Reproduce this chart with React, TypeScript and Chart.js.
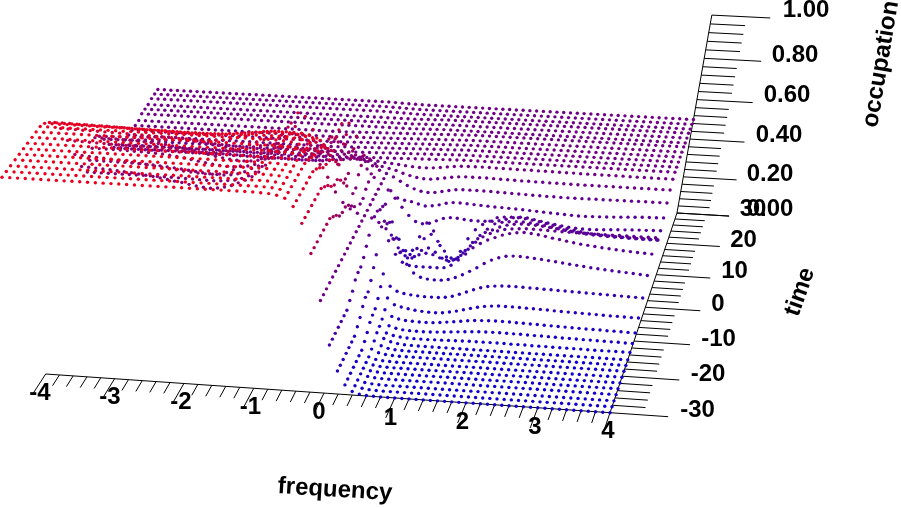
import React, { useEffect, useRef } from "react";
import { Chart, registerables } from "chart.js";

Chart.register(...registerables);

// Occupation in thousandths. Each row is one time. Columns: frequency -4.0 .. -0.1 and 0.0 .. 4.0 in steps of 0.1.
const rowTimes = [-30,-28.4,-26.8,-25.1,-23.5,-21.9,-20.3,-18.6,-17,-15.4,-13.8,-12.2,-10.5,-8.9,-7.3,-5.7,-4.1,-2.4,-0.8,0.8,2.4,4.1,5.7,7.3,8.9,10.5,12.2,13.8,15.4,17,18.6,20.3,21.9,23.5,25.1,26.8,28.4,30];

const coldNeg = [1000,1000,1000,1000,1000,1000,1000,1000,1000,1000,1000,1000,1000,1000,1000,1000,1000,1000,1000,1000,1000,1000,1000,1000,1000,1000,1000,1000,1000,1000,1000,1000,1000,999,997,992,980,945,870,730];
const coldPos = [500,270,130,55,20,8,3,1,0,0,0,0,0,0,0,0,0,0,0,0,0,0,0,0,0,0,0,0,0,0,0,0,0,0,0,0,0,0,0,0,0];
const lateANeg = [490,490,490,490,490,490,490,490,490,490,490,490,490,490,490,490,490,490,490,490,490,490,490,490,490,490,490,490,490,490,490,491,492,493,494,495,496,497,498,499];
const lateAPos = [500,501,502,503,504,505,506,507,508,509,510,510,510,510,510,510,510,510,510,510,510,510,510,510,510,510,510,510,510,510,510,510,510,510,510,510,510,510,510,510,510];
const lateBNeg = [500,500,500,500,500,500,500,500,500,500,500,500,500,500,500,500,500,500,500,500,500,500,500,500,500,500,500,500,500,500,500,500,500,500,500,500,500,500,500,500];
const lateBPos = [500,501,502,503,504,505,505,505,505,505,505,505,505,505,505,505,505,505,505,505,505,505,505,505,505,505,505,505,505,505,505,505,505,505,505,505,505,505,505,505,505];
const lateCNeg = [505,505,505,505,505,505,505,505,505,505,505,505,505,505,505,505,505,505,505,505,505,505,505,505,505,505,505,505,505,505,505,505,505,505,505,505,504,503,502,501];
const lateCPos = [500,500,500,500,500,500,500,500,500,500,500,500,500,500,500,500,500,500,500,500,500,500,500,500,500,500,500,500,500,500,500,500,500,500,500,500,500,500,500,500,500];

const occupationNegative = [
  coldNeg, coldNeg, coldNeg, coldNeg, coldNeg, coldNeg, coldNeg,
  [1000,1000,1000,1000,1000,1000,1000,1000,1000,1000,1000,1000,1000,1000,1000,1000,1000,1000,1000,1000,1000,1000,1000,1000,1000,1000,1000,1000,1000,1000,1000,1000,1000,998,995,988,970,930,850,710],
  [1000,1000,1000,1000,1000,1000,1000,1000,1000,1000,1000,1000,1000,1000,1000,1000,1000,1000,1000,1000,1000,1000,1000,1000,1000,1000,1000,1000,1000,1000,1000,1000,999,997,992,980,955,910,830,690],
  [1000,1000,1000,1000,1000,1000,1000,1000,1000,1000,1000,1000,1000,1000,1000,1000,1000,1000,1000,1000,1000,1000,1000,1000,1000,1000,1000,1000,1000,1000,1000,999,998,994,986,970,940,885,800,660],
  [990,990,990,990,990,990,990,989,989,989,989,989,988,988,988,987,987,987,986,986,986,986,986,986,987,988,989,990,991,992,992,992,991,988,982,970,935,875,780,650],
  [970,970,969,969,968,968,967,967,966,965,965,964,963,962,962,961,960,960,959,959,959,960,961,963,966,969,972,975,978,980,981,981,980,978,972,960,925,870,780,650],
  [944,944,943,942,942,941,940,940,939,938,937,936,935,934,933,932,931,930,929,928,928,929,931,933,937,942,947,952,957,960,961,961,960,958,952,940,905,845,750,630],
  [892,892,891,890,890,889,888,887,886,885,884,883,882,880,879,878,877,876,875,875,875,878,882,889,898,908,918,926,932,935,934,932,928,922,915,905,870,810,710,600],
  [812,811,810,809,808,807,806,805,804,803,802,801,800,799,798,797,796,795,794,794,795,798,803,812,825,840,855,868,876,880,880,880,878,875,870,860,835,770,670,570],
  [720,717,714,712,710,707,704,701,698,694,690,686,682,678,674,670,667,664,662,662,665,675,690,710,735,757,778,795,808,814,815,813,805,785,740,680,610,560,530,510],
  [636,634,632,630,628,625,622,619,615,611,607,602,596,590,585,578,572,568,565,568,575,585,600,615,635,660,695,730,760,775,778,778,778,778,775,760,720,650,580,530],
  [581,581,581,581,581,581,581,581,581,581,580,580,580,579,578,577,576,575,575,577,580,585,595,610,630,660,700,735,760,765,755,740,735,745,765,755,715,650,580,530],
  [615,615,615,615,614,614,613,612,611,609,607,604,601,597,593,589,585,582,580,580,583,590,602,620,635,670,710,750,785,800,785,755,735,750,785,795,765,700,620,550],
  [649,649,649,648,648,647,646,645,644,642,640,636,632,627,621,615,609,604,600,597,597,600,605,615,645,680,720,765,805,810,775,725,690,715,770,805,785,720,640,560],
  [676,676,675,675,674,673,672,670,668,665,662,657,652,646,639,632,625,618,612,607,604,603,605,610,630,650,680,730,800,850,835,775,700,660,735,810,815,755,665,575],
  [657,658,659,660,661,663,665,667,669,671,672,672,670,667,662,657,651,645,638,632,630,635,645,655,660,662,663,662,659,655,654,660,675,690,695,685,655,615,570,530],
  [617,618,619,620,622,624,626,628,630,631,632,633,633,632,630,628,626,624,622,620,618,616,615,613,612,610,608,606,604,602,602,608,618,625,628,620,610,605,595,560],
  [567,567,567,567,567,568,568,568,569,569,569,570,570,570,570,570,569,569,568,567,566,565,564,563,562,561,560,560,560,560,562,568,575,582,585,580,570,555,535,515],
  [527,527,527,527,527,527,527,527,527,527,527,527,527,527,527,526,526,526,525,525,524,524,523,522,522,521,520,520,520,520,522,526,532,538,542,542,538,530,520,508],
  [498,498,498,498,498,498,498,497,497,497,497,497,497,497,496,496,496,495,495,495,494,494,494,493,493,493,492,492,492,493,494,497,501,506,510,512,512,510,507,503],
  lateANeg, lateANeg, lateANeg, lateANeg, lateANeg, lateANeg,
  lateBNeg, lateBNeg, lateBNeg,
  lateCNeg, lateCNeg, lateCNeg,
];

const occupationPositive = [
  coldPos, coldPos, coldPos, coldPos, coldPos, coldPos, coldPos,
  [500,290,150,70,30,12,5,2,0,0,0,0,0,0,0,0,0,0,0,0,0,0,0,0,0,0,0,0,0,0,0,0,0,0,0,0,0,0,0,0,0],
  [500,310,170,90,45,20,8,3,1,0,0,0,0,0,0,0,0,0,0,0,0,0,0,0,0,0,0,0,0,0,0,0,0,0,0,0,0,0,0,0,0],
  [500,340,200,115,60,30,14,6,2,1,0,0,0,0,0,0,0,0,0,0,0,0,0,0,0,0,0,0,0,0,0,0,0,0,0,0,0,0,0,0,0],
  [500,350,220,125,65,30,18,12,9,8,8,8,9,10,11,12,13,14,14,14,14,14,14,13,13,13,12,12,12,11,11,11,11,11,10,10,10,10,10,10,10],
  [500,350,220,130,75,40,28,22,20,19,19,20,22,25,28,31,34,37,39,40,41,41,41,40,40,39,38,38,37,36,35,35,34,33,33,32,32,31,31,30,30],
  [500,370,250,155,95,60,48,42,40,39,39,40,43,48,53,58,63,67,69,71,72,72,71,70,69,68,67,66,65,64,63,62,61,60,60,59,58,58,57,56,56],
  [500,400,290,190,130,95,85,78,72,68,66,65,68,74,82,92,102,111,118,122,125,125,125,124,123,122,121,120,118,117,116,115,114,113,112,111,110,110,109,108,108],
  [500,430,330,230,165,140,130,125,122,120,120,120,124,132,145,160,175,188,197,202,205,206,206,205,204,203,202,201,200,199,198,197,196,195,194,193,192,191,190,189,188],
  [500,490,470,440,390,320,260,215,195,187,185,186,192,205,222,243,265,290,310,325,335,338,338,336,333,330,326,322,318,314,310,306,302,299,296,293,290,288,286,283,280],
  [500,470,420,350,280,240,225,222,222,222,222,225,240,270,305,340,365,385,400,415,425,432,435,432,428,422,415,410,404,398,393,389,385,381,378,375,372,370,368,366,364],
  [500,470,420,350,285,245,235,255,265,260,245,235,240,265,300,340,370,390,405,415,420,423,425,425,424,423,422,421,420,420,420,419,419,419,419,419,419,419,419,419,419],
  [500,450,380,300,235,205,215,250,265,245,215,200,215,250,290,330,365,380,398,410,417,420,420,418,415,411,407,403,399,396,393,391,389,388,387,386,386,385,385,385,385],
  [500,440,360,280,215,195,230,285,310,275,225,190,195,235,280,320,355,385,395,400,403,403,400,396,391,385,379,373,368,364,360,358,356,355,354,353,352,352,351,351,351],
  [500,425,335,245,185,190,265,340,300,225,165,150,200,270,320,350,370,390,395,397,396,393,388,382,375,368,361,354,348,343,338,335,332,330,328,327,326,325,325,324,324],
  [500,470,430,385,345,315,305,310,325,340,346,345,341,338,337,338,340,345,355,365,370,368,362,355,349,343,338,333,330,328,328,329,331,333,335,337,339,340,341,342,343],
  [500,440,405,395,390,380,372,375,382,392,398,398,396,394,392,390,388,387,385,384,382,380,378,376,374,372,370,368,367,367,368,369,370,372,374,376,378,380,381,382,383],
  [500,485,465,445,430,420,415,418,425,432,438,440,440,440,440,439,438,437,436,435,434,433,432,431,431,430,430,430,430,430,431,431,431,432,432,432,433,433,433,433,433],
  [500,492,480,470,462,458,458,462,468,474,478,480,480,480,480,479,478,478,477,476,476,475,475,474,474,474,473,473,473,473,473,473,473,473,473,473,473,473,473,473,473],
  [500,497,493,490,488,488,490,494,499,503,506,507,508,508,508,507,507,507,506,506,506,505,505,505,504,504,504,503,503,503,503,503,503,503,502,502,502,502,502,502,502],
  lateAPos, lateAPos, lateAPos, lateAPos, lateAPos, lateAPos,
  lateBPos, lateBPos, lateBPos,
  lateCPos, lateCPos, lateCPos,
];

const frequencyMajor = [-4,-3,-2,-1,0,1,2,3,4];
const frequencyMinor = [-3.8,-3.6,-3.4,-3.2,-2.8,-2.6,-2.4,-2.2,-1.8,-1.6,-1.4,-1.2,-0.8,-0.6,-0.4,-0.2,0.2,0.4,0.6,0.8,1.2,1.4,1.6,1.8,2.2,2.4,2.6,2.8,3.2,3.4,3.6,3.8];
const timeMajor = [-30,-20,-10,0,10,20,30];
const timeMinor = [-28,-26,-24,-22,-18,-16,-14,-12,-8,-6,-4,-2,2,4,6,8,12,14,16,18,22,24,26,28];
const occupationMajor = [0,0.2,0.4,0.6,0.8,1];
const occupationMinor = [0.04,0.08,0.12,0.16,0.24,0.28,0.32,0.36,0.44,0.48,0.52,0.56,0.64,0.68,0.72,0.76,0.84,0.88,0.92,0.96];

type Label = { text: string; x: number; y: number; align?: CanvasTextAlign; angle?: number };
const labels: Label[] = [
  { text: "1.00", x: 806, y: 10 }, { text: "0.80", x: 795, y: 55 }, { text: "0.60", x: 787, y: 95 },
  { text: "0.40", x: 779, y: 135 }, { text: "0.20", x: 770, y: 174 }, { text: "0.00", x: 770, y: 209 },
  { text: "30", x: 753, y: 209 }, { text: "20", x: 743.5, y: 240 }, { text: "10", x: 734.5, y: 271 },
  { text: "0", x: 718, y: 304 }, { text: "-10", x: 718.5, y: 339 }, { text: "-20", x: 708, y: 374 }, { text: "-30", x: 697.5, y: 410 },
  { text: "-4", x: 40, y: 393 }, { text: "-3", x: 110, y: 397 }, { text: "-2", x: 181, y: 402 }, { text: "-1", x: 250.5, y: 407 },
  { text: "0", x: 319, y: 412 }, { text: "1", x: 390.5, y: 418 }, { text: "2", x: 462.5, y: 422 }, { text: "3", x: 535, y: 427 }, { text: "4", x: 608, y: 431 },
  { text: "frequency", x: 335, y: 490, angle: 3.5 },
  { text: "time", x: 800, y: 292, angle: -70.5 },
  { text: "occupation", x: 881, y: 64, angle: -80.5 },
];

// Perspective view of the box: u = frequency, v = time, w = occupation.
function project(freq: number, time: number, occ: number) {
  const u = (freq + 4) / 8;
  const v = (time + 30) / 60;
  const d = 1 - 0.0269 * u + 0.1156 * v - 0.115 * occ;
  return {
    x: (45.7 + 547.9 * u + 143.4 * v - 43.9 * occ) / d,
    y: (374 + 27.6 * u - 169.7 * v - 217.2 * occ) / d,
  };
}

function shade(occ: number) {
  const z = Math.max(0, Math.min(1, occ));
  const low = [15, 0, 205];
  const mid = [112, 0, 135];
  const high = [235, 0, 30];
  const a = z < 0.5 ? low : mid;
  const b = z < 0.5 ? mid : high;
  const s = z < 0.5 ? z * 2 : (z - 0.5) * 2;
  return `rgb(${Math.round(a[0] + (b[0] - a[0]) * s)},0,${Math.round(a[2] + (b[2] - a[2]) * s)})`;
}

const gap = { x: NaN, y: NaN };
function segments(pairs: { x: number; y: number }[][]) {
  const out: { x: number; y: number }[] = [];
  pairs.forEach((p) => out.push(p[0], p[1], gap));
  return out;
}

export default function App() {
  const ref = useRef<HTMLCanvasElement | null>(null);
  useEffect(() => {
    document.body.style.margin = "0";
    const rows = rowTimes.map((t, k) => {
      const values = [...occupationNegative[k], ...occupationPositive[k]];
      const pts = values.map((val, i) => ({ ...project(-4 + i * 0.1, t, val / 1000) }));
      return {
        type: "scatter" as const,
        data: pts,
        pointRadius: 1.7,
        pointBorderWidth: 0,
        pointBackgroundColor: values.map((val) => shade(val / 1000)),
        showLine: false,
      };
    });
    const uTick = (du: number) => du * 8;
    const axisLines = segments([
      [project(-4, -30, 0), project(4, -30, 0)],
      [project(4, -30, 0), project(4, 30, 0)],
      [project(4, 30, 0), project(4, 30, 1)],
      ...frequencyMajor.map((f) => [project(f, -30, 0), project(f, -35.4, 0)]),
      ...frequencyMinor.map((f) => [project(f, -30, 0), project(f, -33, 0)]),
      ...timeMajor.map((t) => [project(4, t, 0), project(4 + uTick(0.1), t, 0)]),
      ...timeMinor.map((t) => [project(4, t, 0), project(4 + uTick(0.057), t, 0)]),
      ...occupationMajor.map((o) => [project(4, 30, o), project(4 + uTick(0.1), 30, o)]),
      ...occupationMinor.map((o) => [project(4, 30, o), project(4 + uTick(0.06), 30, o)]),
    ]);
    const textPlugin = {
      id: "labelsText",
      afterDatasetsDraw(chart: any) {
        const ctx = chart.ctx;
        const xs = chart.scales.x;
        const ys = chart.scales.y;
        ctx.save();
        ctx.fillStyle = "#000";
        ctx.font = 'bold 24px "Liberation Sans", Arial, sans-serif';
        ctx.textBaseline = "middle";
        ctx.textAlign = "center";
        labels.forEach((l) => {
          ctx.save();
          ctx.translate(xs.getPixelForValue(l.x), ys.getPixelForValue(l.y));
          if (l.angle) ctx.rotate((l.angle * Math.PI) / 180);
          ctx.fillText(l.text, 0, 0);
          ctx.restore();
        });
        ctx.restore();
      },
    };
    const chart = new Chart(ref.current as HTMLCanvasElement, {
      type: "scatter",
      data: {
        datasets: [
          ...rows,
          {
            type: "scatter" as const,
            data: axisLines,
            showLine: true,
            spanGaps: false,
            pointRadius: 0,
            borderWidth: 1,
            borderColor: "#000",
          },
        ] as any,
      },
      options: {
        animation: false,
        responsive: false,
        devicePixelRatio: 1,
        layout: { padding: 0, autoPadding: false },
        plugins: { legend: { display: false }, tooltip: { enabled: false }, title: { display: false } },
        scales: {
          x: { type: "linear", min: 0, max: 901, display: false },
          y: { type: "linear", min: 0, max: 508, reverse: true, display: false },
        },
      },
      plugins: [textPlugin],
    });
    return () => chart.destroy();
  }, []);
  return (
    <div style={{ width: 901, height: 508 }}>
      <canvas ref={ref} width={901} height={508} style={{ display: "block" }} />
    </div>
  );
}
